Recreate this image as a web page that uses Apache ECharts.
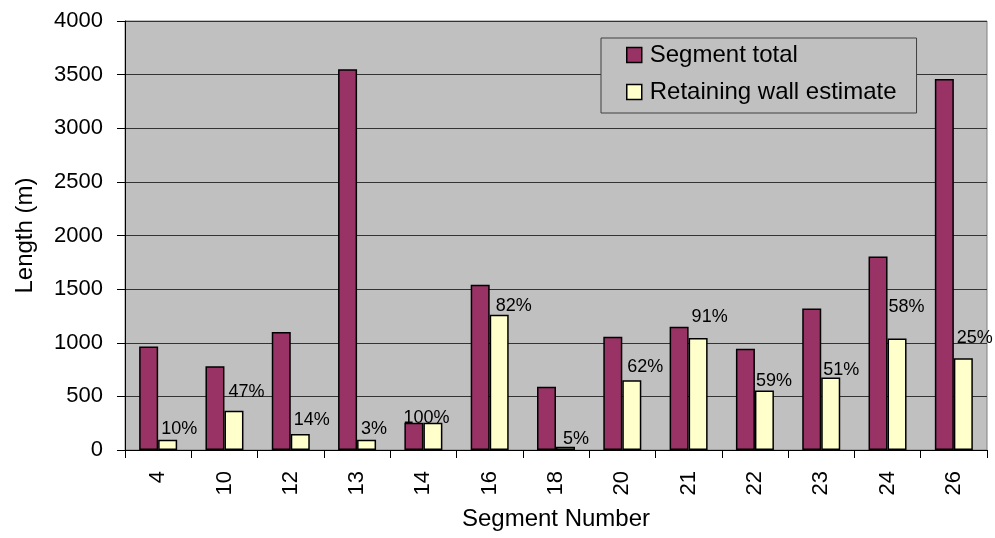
<!DOCTYPE html>
<html>
<head>
<meta charset="utf-8">
<script src="https://cdn.jsdelivr.net/npm/echarts@6/dist/echarts.min.js"></script>
<style>
  html, body { margin: 0; padding: 0; background: #ffffff; }
  #chart { width: 995px; height: 538px; }
</style>
</head>
<body>
<div id="chart"></div>
<script>
// Segment numbers along the route
const segments = ['4', '10', '12', '13', '14', '16', '18', '20', '21', '22', '23', '24', '26'];
// Total length of each segment (m)
const segmentTotal = [965, 780, 1100, 3550, 255, 1540, 590, 1055, 1150, 945, 1320, 1805, 3460];
// Estimated retaining wall length within each segment (m)
const retainingWall = [95, 367, 150, 95, 255, 1260, 30, 650, 1045, 555, 675, 1040, 855];

// Small per-label nudges (px) for the percentage labels
const pctLabelShift = [3, 4, 3, 4, -20, 6, 7, 5, 3, 1, 2, 1, 3];
const pctLabelRaise = [2, 10, 5, 2, -4, 0, -1, 4, 12, 0, -1, 22, 11];

const FONT = '"Liberation Sans", Arial, sans-serif';
const BAR_W = 19;

const wallData = retainingWall.map((v, i) => ({
  value: v,
  label: { offset: [pctLabelShift[i] - BAR_W / 2, -pctLabelRaise[i]] }
}));

const chart = echarts.init(document.getElementById('chart'), null, { renderer: 'canvas' });

chart.setOption({
  animation: false,
  backgroundColor: '#ffffff',
  textStyle: { fontFamily: FONT, color: '#000' },
  grid: {
    left: 125, right: 8, top: 21, bottom: 88,
    show: true,
    backgroundColor: '#C0C0C0',
    borderColor: '#808080',
    borderWidth: 1
  },
  legend: {
    orient: 'vertical',
    left: 601,
    top: 38,
    padding: [5, 20, 9, 25],
    itemGap: 13,
    itemWidth: 15,
    itemHeight: 15,
    icon: 'rect',
    backgroundColor: '#C0C0C0',
    borderColor: '#404040',
    borderWidth: 1,
    borderRadius: 0,
    textStyle: { fontFamily: FONT, fontSize: 24, color: '#000', padding: [0, 0, 0, 3] },
    itemStyle: { borderColor: '#000', borderWidth: 1.5 },
    data: ['Segment total', 'Retaining wall estimate']
  },
  xAxis: {
    type: 'category',
    data: segments,
    name: 'Segment Number',
    nameLocation: 'middle',
    nameGap: 57,
    nameTextStyle: { fontFamily: FONT, fontSize: 24, color: '#000' },
    axisLine: { lineStyle: { color: '#000', width: 1 } },
    axisTick: { show: true, length: 8, alignWithLabel: false, lineStyle: { color: '#000' } },
    axisLabel: { rotate: 90, margin: 21, fontFamily: FONT, fontSize: 22, color: '#000' },
    splitLine: { show: false }
  },
  yAxis: {
    type: 'value',
    min: 0,
    max: 4000,
    interval: 500,
    name: 'Length (m)',
    nameLocation: 'middle',
    nameGap: 88,
    nameTextStyle: { fontFamily: FONT, fontSize: 24, color: '#000' },
    axisLine: { show: true, lineStyle: { color: '#000', width: 1 } },
    axisTick: { show: true, length: 8, lineStyle: { color: '#000' } },
    axisLabel: {
      margin: 22, fontFamily: FONT, fontSize: 22, color: '#000',
      formatter: v => String(v)
    },
    splitLine: { show: true, lineStyle: { color: '#333333', width: 1 } }
  },
  series: [
    {
      name: 'Segment total',
      type: 'bar',
      data: segmentTotal,
      barWidth: BAR_W,
      barGap: '0%',
      itemStyle: { color: '#993366', borderColor: '#000', borderWidth: 1.5 }
    },
    {
      name: 'Retaining wall estimate',
      type: 'bar',
      data: wallData,
      barWidth: BAR_W,
      barGap: '0%',
      itemStyle: { color: '#FFFFCC', borderColor: '#000', borderWidth: 1.5 },
      label: {
        show: true,
        position: 'top',
        distance: 0,
        align: 'left',
        verticalAlign: 'bottom',
        fontFamily: FONT,
        fontSize: 18,
        color: '#000',
        formatter: p => Math.round(p.value / segmentTotal[p.dataIndex] * 100) + '%'
      },
      z: 3
    }
  ]
});
</script>
</body>
</html>
